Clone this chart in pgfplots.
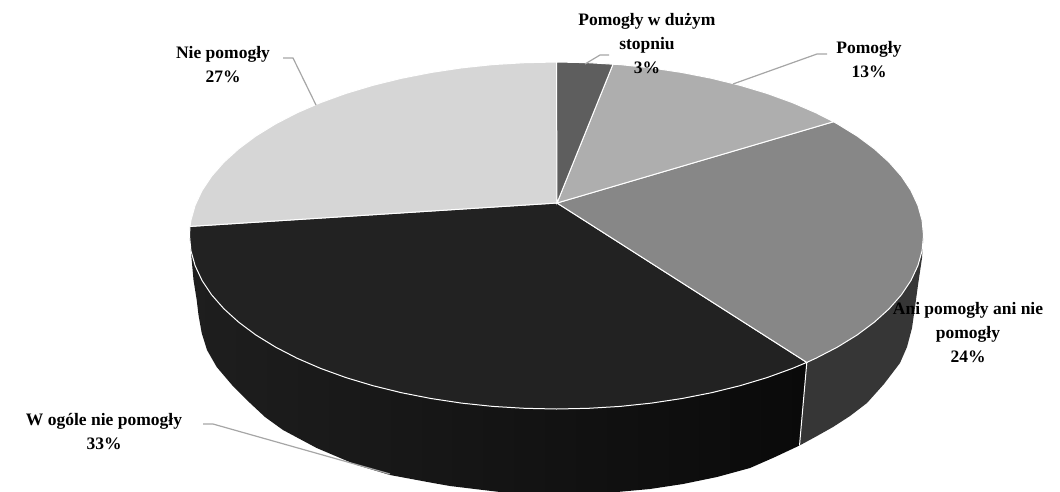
\documentclass[border=0pt]{standalone}
\usepackage{pgfplots}
\pgfplotsset{compat=1.18}
\usepackage{fontspec}
\setmainfont{Liberation Serif}
\definecolor{sA}{HTML}{5E5E5E}
\definecolor{sB}{HTML}{AEAEAE}
\definecolor{sC}{HTML}{878787}
\definecolor{sD}{HTML}{222222}
\definecolor{sE}{HTML}{D6D6D6}
\definecolor{sideL}{HTML}{1E1E1E}
\definecolor{sideR}{HTML}{0A0A0A}
\definecolor{sideC}{HTML}{363636}
\definecolor{lead}{HTML}{A6A6A6}
\tikzset{lab/.style={font=\bfseries\fontsize{17.5}{24}\selectfont,align=center,text=black,inner sep=0pt}}
\begin{document}
\begin{tikzpicture}
\path[use as bounding box] (0,0) rectangle (1060pt,491pt);
\begin{axis}[
  scale only axis, width=1060pt, height=491pt,
  xmin=0, xmax=1060, ymin=0, ymax=491, y dir=reverse,
  hide axis, clip=true]
% side walls
\addplot[left color=sideL, right color=sideR, draw=none] coordinates {
(189.5,235.5)(190.9,250.6)(195.1,265.6)(202.0,280.4)(211.6,294.8)(223.9,308.8)(238.7,322.2)(255.9,335.0)(275.4,347.0)(297.0,358.2)(320.6,368.4)(346.0,377.6)(373.0,385.7)(401.4,392.7)(431.0,398.5)(461.5,403.1)(492.8,406.4)(524.5,408.3)(556.5,409.0)(588.5,408.3)(620.2,406.4)(651.5,403.1)(682.0,398.5)(711.6,392.7)(740.0,385.7)(767.0,377.6)(792.4,368.4)(806.8,362.4)
(799.5,445.5)(775,457)(750,468)(717,477)(683,484)(650,489)(617,492)(560,494)(500,492)(483,490)(450,486)(433,483)(390,475)(356.7,465)(316.7,448)(283,430)(265,417)(250,403)(232,385)(216.7,367)(207,350)(201.7,333)(198.5,315)(196.7,300)(193.5,280)(191.7,260)
} --cycle;
\addplot[fill=sideC, draw=none] coordinates {
(806.8,362.4)(816.0,358.2)(837.6,347.0)(857.1,335.0)(874.3,322.2)(889.1,308.8)(901.4,294.8)(911.0,280.4)(917.9,265.6)(922.1,250.6)(923.5,235.5)
(922,258)(918,285)(915,307)(912,328)(907,347)(900,363)(884,384)(867,403)(850,416)(833,427)(817,436)(799.5,445.5)
} --cycle;
\addplot[draw=white, line width=1pt] coordinates {(806.8,362.4)(799.5,445.5)};
% top slices
\addplot[fill=sD, draw=white, line width=1pt] coordinates {
(557,203)(806.8,362.4)(792.4,368.4)(767.0,377.6)(740.0,385.7)(711.6,392.7)(682.0,398.5)(651.5,403.1)(620.2,406.4)(588.5,408.3)(556.5,409.0)(524.5,408.3)(492.8,406.4)(461.5,403.1)(431.0,398.5)(401.4,392.7)(373.0,385.7)(346.0,377.6)(320.6,368.4)(297.0,358.2)(275.4,347.0)(255.9,335.0)(238.7,322.2)(223.9,308.8)(211.6,294.8)(202.0,280.4)(195.1,265.6)(190.9,250.6)(189.5,235.5)(190,226.4)
} --cycle;
\addplot[fill=sE, draw=white, line width=1pt] coordinates {
(557,203)(190,226.4)(190.9,220.4)(195.1,205.4)(202.0,190.6)(211.6,176.2)(223.9,162.2)(238.7,148.8)(255.9,136.0)(275.4,124.0)(297.0,112.8)(320.6,102.6)(346.0,93.4)(373.0,85.3)(401.4,78.3)(431.0,72.5)(461.5,67.9)(492.8,64.6)(524.5,62.7)(556.5,62.0)
} --cycle;
\addplot[fill=sC, draw=white, line width=1pt] coordinates {
(557,203)(833.5,121.7)(837.6,124.0)(857.1,136.0)(874.3,148.8)(889.1,162.2)(901.4,176.2)(911.0,190.6)(917.9,205.4)(922.1,220.4)(923.5,235.5)(922.1,250.6)(917.9,265.6)(911.0,280.4)(901.4,294.8)(889.1,308.8)(874.3,322.2)(857.1,335.0)(837.6,347.0)(816.0,358.2)(806.8,362.4)
} --cycle;
\addplot[fill=sB, draw=white, line width=1pt] coordinates {
(557,203)(613,64.2)(620.2,64.6)(651.5,67.9)(682.0,72.5)(711.6,78.3)(740.0,85.3)(767.0,93.4)(792.4,102.6)(816.0,112.8)(833.5,121.7)
} --cycle;
\addplot[fill=sA, draw=white, line width=1pt] coordinates {
(557,203)(556.5,62.0)(588.5,62.7)(613,64.2)
} --cycle;
% leader lines
\addplot[draw=lead, line width=1.2pt] coordinates {(585,64)(600,55)(609,55)};
\addplot[draw=lead, line width=1.2pt] coordinates {(733,84)(817,54)(827,54)};
\addplot[draw=lead, line width=1.2pt] coordinates {(283,58)(293,58)(316,105)};
\addplot[draw=lead, line width=1.2pt] coordinates {(203,424)(213,424)(390,474)};
% labels
\node[lab] at (axis cs:647,44) {Pomogły w dużym\\stopniu\\3\%};
\node[lab] at (axis cs:869,60) {Pomogły\\13\%};
\node[lab] at (axis cs:223,65) {Nie pomogły\\27\%};
\node[lab] at (axis cs:968,333) {Ani pomogły ani nie\\pomogły\\24\%};
\node[lab] at (axis cs:104,432) {W ogóle nie pomogły\\33\%};
\end{axis}
\end{tikzpicture}
\end{document}
